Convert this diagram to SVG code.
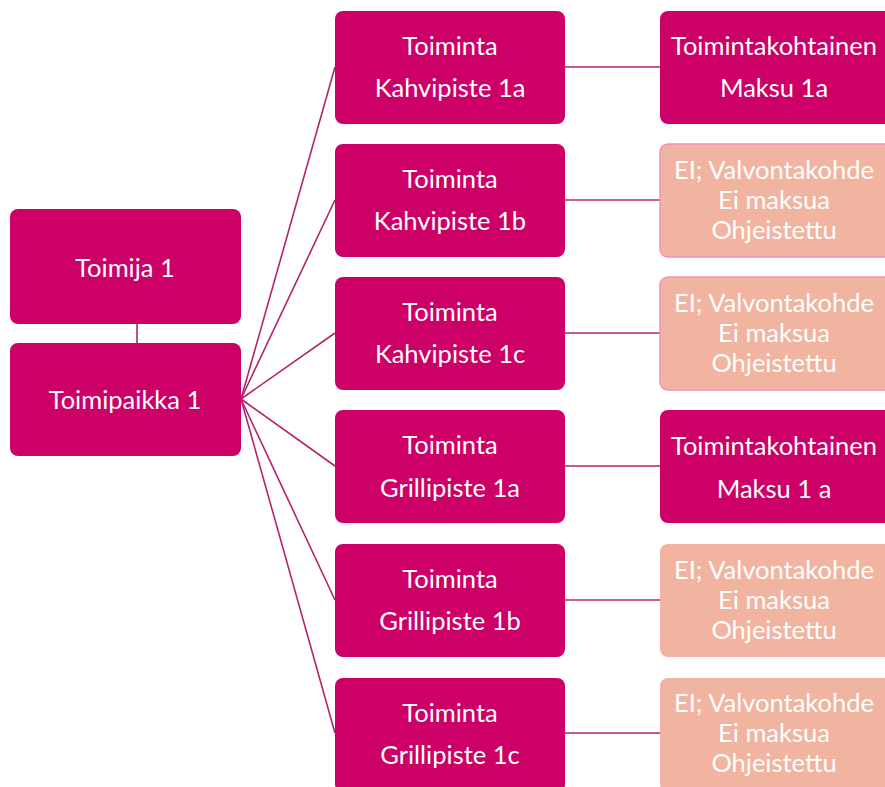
<svg xmlns="http://www.w3.org/2000/svg" width="885" height="787" viewBox="0 0 885 787">
<style>
.m{fill:#CC0066;}
.s{fill:#F0B4A0;stroke:#F48FBE;stroke-width:1.5;}
.t{fill:#FFFFFF;font-family:Lato,"Open Sans",sans-serif;font-size:25.5px;text-anchor:middle;dominant-baseline:central;}
.c{stroke:#B4236C;stroke-width:1.6;fill:none;}
</style>
<rect width="885" height="787" fill="#FFFFFF"/>
<g id="connectors">
<line class="c" x1="137" y1="324" x2="137" y2="343"/>
<line class="c" x1="241" y1="399" x2="335" y2="67"/>
<line class="c" x1="241" y1="399" x2="335" y2="200"/>
<line class="c" x1="241" y1="399" x2="335" y2="333"/>
<line class="c" x1="241" y1="399" x2="335" y2="466"/>
<line class="c" x1="241" y1="399" x2="335" y2="600"/>
<line class="c" x1="241" y1="399" x2="335" y2="733"/>
<line class="c" x1="565" y1="67" x2="660" y2="67"/>
<line class="c" x1="565" y1="200" x2="660" y2="200"/>
<line class="c" x1="565" y1="333" x2="660" y2="333"/>
<line class="c" x1="565" y1="466" x2="660" y2="466"/>
<line class="c" x1="565" y1="600" x2="660" y2="600"/>
<line class="c" x1="565" y1="733" x2="660" y2="733"/>
</g>
<g id="toimija1"><rect class="m" x="10" y="209" width="231" height="115" rx="8"/><text class="t" x="125" y="267">Toimija 1</text></g>
<g id="toimipaikka1"><rect class="m" x="10" y="343" width="231" height="113" rx="8"/><text class="t" x="125" y="399">Toimipaikka 1</text></g>

<g id="kahvi1a"><rect class="m" x="335" y="11" width="230" height="113" rx="8"/><text class="t" x="450" y="45">Toiminta</text><text class="t" x="450" y="87">Kahvipiste 1a</text></g>
<g id="kahvi1b"><rect class="m" x="335" y="144" width="230" height="113" rx="8"/><text class="t" x="450" y="178">Toiminta</text><text class="t" x="450" y="220">Kahvipiste 1b</text></g>
<g id="kahvi1c"><rect class="m" x="335" y="277" width="230" height="113" rx="8"/><text class="t" x="450" y="311">Toiminta</text><text class="t" x="450" y="353">Kahvipiste 1c</text></g>
<g id="grilli1a"><rect class="m" x="335" y="410" width="230" height="113" rx="8"/><text class="t" x="450" y="444">Toiminta</text><text class="t" x="450" y="487">Grillipiste 1a</text></g>
<g id="grilli1b"><rect class="m" x="335" y="544" width="230" height="113" rx="8"/><text class="t" x="450" y="578">Toiminta</text><text class="t" x="450" y="620">Grillipiste 1b</text></g>
<g id="grilli1c"><rect class="m" x="335" y="678" width="230" height="114" rx="8"/><text class="t" x="450" y="712">Toiminta</text><text class="t" x="450" y="754">Grillipiste 1c</text></g>

<g id="maksu1a"><rect class="m" x="660" y="11" width="232" height="113" rx="8"/><text class="t" x="774" y="45">Toimintakohtainen</text><text class="t" x="774" y="87">Maksu 1a</text></g>
<g id="valvonta1b"><rect class="s" x="660" y="144" width="232" height="113" rx="8"/><text class="t" x="774" y="169">EI; Valvontakohde</text><text class="t" x="774" y="199">Ei maksua</text><text class="t" x="774" y="229">Ohjeistettu</text></g>
<g id="valvonta1c"><rect class="s" x="660" y="277" width="232" height="113" rx="8"/><text class="t" x="774" y="302">EI; Valvontakohde</text><text class="t" x="774" y="332">Ei maksua</text><text class="t" x="774" y="362">Ohjeistettu</text></g>
<g id="maksu1a_grilli"><rect class="m" x="660" y="410" width="232" height="113" rx="8"/><text class="t" x="774" y="445">Toimintakohtainen</text><text class="t" x="774" y="488">Maksu 1 a</text></g>
<g id="valvonta_g1b"><rect class="s" x="660" y="544" width="232" height="113" rx="8" style="stroke:none"/><text class="t" x="774" y="569">EI; Valvontakohde</text><text class="t" x="774" y="599">Ei maksua</text><text class="t" x="774" y="629">Ohjeistettu</text></g>
<g id="valvonta_g1c"><rect class="s" x="660" y="678" width="232" height="114" rx="8" style="stroke:none"/><text class="t" x="774" y="702">EI; Valvontakohde</text><text class="t" x="774" y="732">Ei maksua</text><text class="t" x="774" y="762">Ohjeistettu</text></g>
</svg>
